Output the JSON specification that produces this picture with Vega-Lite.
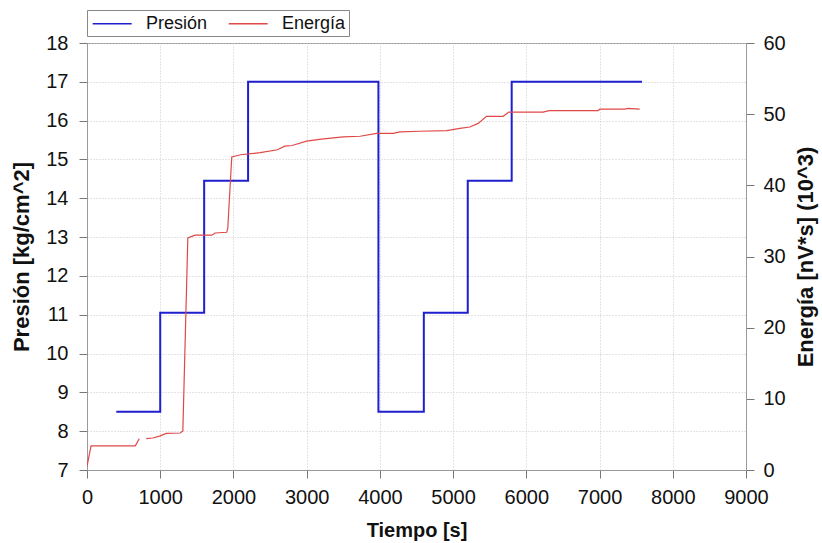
{
  "$schema": "https://vega.github.io/schema/vega-lite/v6.json",
  "autosize": {"type": "none"},
  "width": 659,
  "height": 427,
  "padding": {"left": 87, "top": 43, "right": 76, "bottom": 73},
  "background": "white",
  "config": {
    "font": "Liberation Sans",
    "view": {"stroke": "#999", "strokeWidth": 1},
    "axis": {
      "labelFont": "Liberation Sans",
      "titleFont": "Liberation Sans",
      "labelFontSize": 20,
      "titleFontSize": 20,
      "labelColor": "#111",
      "titleColor": "#111",
      "titleFontWeight": "bold",
      "domainColor": "#999",
      "tickColor": "#777",
      "tickSize": 8,
      "labelFlush": false,
      "gridColor": "#c8c8c8",
      "gridDash": [1, 2],
      "gridWidth": 1
    }
  },
  "datasets": {
    "presion": [
      {"t": 400, "p": 8.5, "serie": "Presión"},
      {"t": 1000, "p": 11.05, "serie": "Presión"},
      {"t": 1600, "p": 14.45, "serie": "Presión"},
      {"t": 2200, "p": 17.0, "serie": "Presión"},
      {"t": 3980, "p": 8.5, "serie": "Presión"},
      {"t": 4600, "p": 11.05, "serie": "Presión"},
      {"t": 5200, "p": 14.45, "serie": "Presión"},
      {"t": 5800, "p": 17.0, "serie": "Presión"},
      {"t": 7580, "p": 17.0, "serie": "Presión"}
    ],
    "energia": [
      {"t": 0, "e": 0.5, "seg": 1, "serie": "Energía"},
      {"t": 55, "e": 3.4, "seg": 1, "serie": "Energía"},
      {"t": 660, "e": 3.4, "seg": 1, "serie": "Energía"},
      {"t": 713, "e": 4.4, "seg": 1, "serie": "Energía"},
      {"t": 809, "e": 4.4, "seg": 2, "serie": "Energía"},
      {"t": 900, "e": 4.5, "seg": 2, "serie": "Energía"},
      {"t": 1000, "e": 4.8, "seg": 2, "serie": "Energía"},
      {"t": 1082, "e": 5.15, "seg": 2, "serie": "Energía"},
      {"t": 1273, "e": 5.2, "seg": 2, "serie": "Energía"},
      {"t": 1309, "e": 5.5, "seg": 2, "serie": "Energía"},
      {"t": 1377, "e": 32.6, "seg": 2, "serie": "Energía"},
      {"t": 1477, "e": 33.0, "seg": 2, "serie": "Energía"},
      {"t": 1705, "e": 33.0, "seg": 2, "serie": "Energía"},
      {"t": 1750, "e": 33.3, "seg": 2, "serie": "Energía"},
      {"t": 1909, "e": 33.4, "seg": 2, "serie": "Energía"},
      {"t": 1923, "e": 34.0, "seg": 2, "serie": "Energía"},
      {"t": 1977, "e": 44.0, "seg": 2, "serie": "Energía"},
      {"t": 2100, "e": 44.3, "seg": 2, "serie": "Energía"},
      {"t": 2365, "e": 44.6, "seg": 2, "serie": "Energía"},
      {"t": 2600, "e": 45.0, "seg": 2, "serie": "Energía"},
      {"t": 2700, "e": 45.5, "seg": 2, "serie": "Energía"},
      {"t": 2800, "e": 45.6, "seg": 2, "serie": "Energía"},
      {"t": 3000, "e": 46.2, "seg": 2, "serie": "Energía"},
      {"t": 3200, "e": 46.5, "seg": 2, "serie": "Energía"},
      {"t": 3500, "e": 46.8, "seg": 2, "serie": "Energía"},
      {"t": 3731, "e": 46.9, "seg": 2, "serie": "Energía"},
      {"t": 3956, "e": 47.3, "seg": 2, "serie": "Energía"},
      {"t": 4183, "e": 47.3, "seg": 2, "serie": "Energía"},
      {"t": 4274, "e": 47.5, "seg": 2, "serie": "Energía"},
      {"t": 4547, "e": 47.6, "seg": 2, "serie": "Energía"},
      {"t": 4911, "e": 47.7, "seg": 2, "serie": "Energía"},
      {"t": 5093, "e": 48.0, "seg": 2, "serie": "Energía"},
      {"t": 5229, "e": 48.2, "seg": 2, "serie": "Energía"},
      {"t": 5342, "e": 48.7, "seg": 2, "serie": "Energía"},
      {"t": 5456, "e": 49.7, "seg": 2, "serie": "Energía"},
      {"t": 5683, "e": 49.7, "seg": 2, "serie": "Energía"},
      {"t": 5761, "e": 50.3, "seg": 2, "serie": "Energía"},
      {"t": 6229, "e": 50.3, "seg": 2, "serie": "Energía"},
      {"t": 6311, "e": 50.5, "seg": 2, "serie": "Energía"},
      {"t": 6980, "e": 50.5, "seg": 2, "serie": "Energía"},
      {"t": 7003, "e": 50.7, "seg": 2, "serie": "Energía"},
      {"t": 7344, "e": 50.7, "seg": 2, "serie": "Energía"},
      {"t": 7389, "e": 50.8, "seg": 2, "serie": "Energía"},
      {"t": 7548, "e": 50.7, "seg": 2, "serie": "Energía"}
    ]
  },
  "layer": [
    {
      "data": {"name": "presion"},
      "mark": {"type": "line", "interpolate": "step-after", "strokeWidth": 2, "clip": true},
      "encoding": {
        "x": {
          "field": "t", "type": "quantitative",
          "scale": {"domain": [0, 9000], "nice": false},
          "axis": {"title": "Tiempo [s]", "values": [0,1000,2000,3000,4000,5000,6000,7000,8000,9000], "labelPadding": 9, "titlePadding": 13, "format": "d"}
        },
        "y": {
          "field": "p", "type": "quantitative",
          "scale": {"domain": [7, 18], "nice": false, "zero": false},
          "axis": {"title": "Presión [kg/cm^2]", "titleFontSize": 22, "values": [7,8,9,10,11,12,13,14,15,16,17,18], "labelPadding": 11, "titlePadding": 12}
        },
        "color": {
          "field": "serie", "type": "nominal",
          "scale": {"domain": ["Presión", "Energía"], "range": ["#1f1fd0", "#e04848"]},
          "legend": {
            "title": null,
            "orient": "none",
            "legendX": 0,
            "legendY": -33,
            "direction": "horizontal",
            "symbolType": "M-0.8,0H3.2",
            "symbolSize": 380,
            "symbolStrokeWidth": 1.5,
            "labelFontSize": 18,
            "labelFont": "Liberation Sans",
            "labelColor": "#111",
            "strokeColor": "#888",
            "padding": 3,
            "columnPadding": 17,
            "labelOffset": 35
          }
        }
      }
    },
    {
      "data": {"name": "energia"},
      "mark": {"type": "line", "strokeWidth": 1.2, "clip": true},
      "encoding": {
        "x": {"field": "t", "type": "quantitative", "scale": {"domain": [0, 9000], "nice": false}},
        "y": {
          "field": "e", "type": "quantitative",
          "scale": {"domain": [0, 60], "nice": false},
          "axis": {"title": "Energía [nV*s] (10^3)", "titleFontSize": 22, "orient": "right", "values": [0,10,20,30,40,50,60], "grid": false, "labelPadding": 9, "titlePadding": 32, "titleAngle": 270}
        },
        "detail": {"field": "seg", "type": "nominal"},
        "color": {"field": "serie", "type": "nominal"}
      }
    }
  ],
  "resolve": {"scale": {"y": "independent"}}
}
